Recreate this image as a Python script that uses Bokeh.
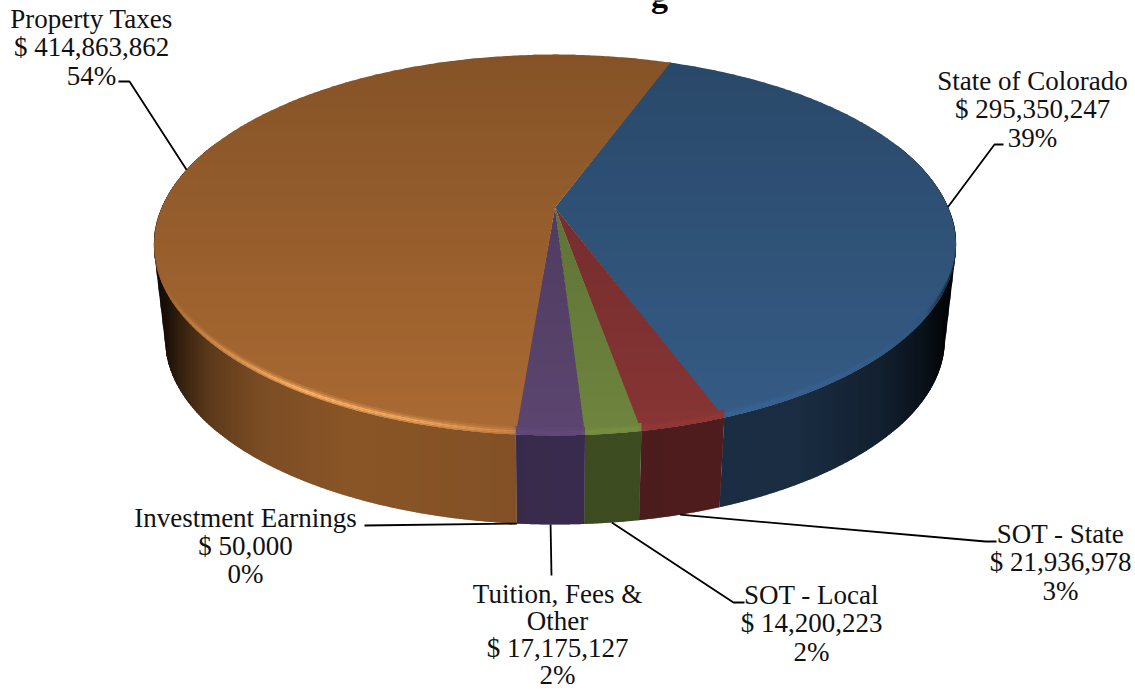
import math
import numpy as np
from bokeh.plotting import figure
from bokeh.embed import file_html
from bokeh.resources import INLINE
from bokeh.core.properties import value

# ---- data ----
categories = ["State of Colorado", "SOT - State", "SOT - Local", "Tuition, Fees & Other",
              "Investment Earnings", "Property Taxes"]
amounts = [295350247, 21936978, 14200223, 17175127, 50000, 414863862]
label_lines = [["State of Colorado"], ["SOT - State"], ["SOT - Local"], ["Tuition, Fees &", "Other"],
               ["Investment Earnings"], ["Property Taxes"]]

# ---- styles ----
top_colors = ["#365D87", "#883535", "#6F853F", "#5C4670", "#31859C", "#AB6B33"]
wall_colors = ["#1A2D42", "#4F1D1D", "#3F4F22", "#3B2D4F", "#1F5666", "#8A5628"]
glow_colors = ["#3F70A8", "#A53C3C", "#84A048", "#70508A", "#40A0B8", "#FFB468"]
wedge_order = [4, 0, 1, 2, 3, 5]

# ---- layout ----
W, H = 1135, 690
START_DEG = 20.2
CX, CY, A, B, K = 554.5, 207.0, 393.2, 183.0, 0.197
LOW_CY, LOW_S = 302.5, 0.972
label_center = [1032, 1060, 811, 557, 245, 91]
label_top = [80, 533, 594, 593, 517, 18]
label_step = [28.6, 28.6, 28.6, 27.0, 28.0, 28.6]
elbows = [[(994, 144), (1003, 144)], [(985, 541), (996, 541)], [(733, 602), (744, 602)],
          [(551, 575)], [(364, 525)], [(129, 81), (118, 81)]]
anchor_lower = [False, True, True, True, True, False]
bevel_up = [8.0, 6.0, 4.2, 2.5, 1.0, 0.0]
bevel_w = [.18, .5, 1.0, .95, .55]
HULL_LEFT_END, HULL_RIGHT_START = 215, 895


def proj(r, deg, lower=False):
    t = np.radians(deg)
    u, v = r * np.sin(t), r * np.cos(t)
    d = 1 + K * v
    if lower:
        return CX + LOW_S * A * u / d, LOW_CY - LOW_S * B * v / d
    return CX + A * u / d, CY - B * v / d


def rgb(h):
    return np.array([int(h[i:i + 2], 16) for i in (1, 3, 5)], float)


def hx(c):
    c = np.clip(c, 0, 255).astype(int)
    return "#%02x%02x%02x" % tuple(c)


total = sum(amounts)
edges = [START_DEG]
for a in amounts:
    edges.append(edges[-1] + 360.0 * a / total)
mids = [(edges[i] + edges[i + 1]) / 2 for i in range(len(amounts))]


def wall_factor(x):
    return np.interp(x, [150, 165, 180, 210, 260, 350, 500, 720, 800, 880, 920, 945, 960],
                     [.08, .18, .38, .68, .90, 1, .95, 1, 1, .72, .42, .12, .06])


def glow(x):
    return np.interp(x, [150, 158, 200, 300, 430, 520, 720, 860, 925, 945, 960],
                     [-.8, 0, .4, 1.0, .75, .35, .45, .25, 0, -.6, -.9])


def lift(deg):
    return min(1.0, max(0.0, -math.cos(math.radians(deg)) / 0.55))


def clip_half(poly, val, keep_above, axis=1):
    out = []
    n = len(poly)
    for i in range(n):
        p, q = poly[i], poly[(i + 1) % n]
        ip = (p[axis] >= val) if keep_above else (p[axis] <= val)
        iq = (q[axis] >= val) if keep_above else (q[axis] <= val)
        if ip:
            out.append(p)
        if ip != iq:
            s = (val - p[axis]) / (q[axis] - p[axis])
            c = (p[0] + s * (q[0] - p[0]), p[1] + s * (q[1] - p[1]))
            out.append(c)
    return out


def convex_hull(points):
    pts = sorted(set((float(a), float(b)) for a, b in points))

    def half(seq):
        out = []
        for q in seq:
            while len(out) >= 2 and ((out[-1][0] - out[-2][0]) * (q[1] - out[-2][1])
                                     - (out[-1][1] - out[-2][1]) * (q[0] - out[-2][0])) <= 0:
                out.pop()
            out.append(q)
        return out[:-1]

    return half(pts) + half(pts[::-1])


xs, ys, cols = [], [], []


def add(poly, col):
    xs.append([float(p[0]) for p in poly])
    ys.append([float(p[1]) for p in poly])
    cols.append(col)


STRIP = 2


def add_strips(shape, lo, hi, color):
    for x in range(int(lo), int(hi), STRIP):
        part = clip_half(clip_half(shape, x, True, 0), x + STRIP + 1, False, 0)
        if len(part) >= 3:
            add(part, hx(rgb(color) * wall_factor(x + STRIP / 2)))


# silhouette of the drum at both sides, where the wall's outline leaves the two rims
round_degs = np.arange(0, 360, 1.0)
hull = convex_hull([proj(1, d) for d in round_degs] + [proj(1, d, True) for d in round_degs])
add_strips(hull, 150, HULL_LEFT_END, wall_colors[5])
add_strips(hull, HULL_RIGHT_START, 960, wall_colors[0])

# side wall: each slice's wall cut in vertical strips for the horizontal shading
WALL_FROM, WALL_TO = 69.5, 290.5
for i in wedge_order:
    a0, a1 = max(edges[i], WALL_FROM), min(edges[i + 1], WALL_TO)
    if a1 <= a0:
        continue
    n = max(2, int(math.ceil((a1 - a0) / 0.5)))
    degs = [a0 + (a1 - a0) * j / n for j in range(n + 1)]
    shape = [proj(1, d) for d in degs] + [proj(1, d, True) for d in reversed(degs)]
    lo, hi = int(min(q[0] for q in shape)) - 1, int(max(q[0] for q in shape)) + 2
    add_strips(shape, lo, hi, wall_colors[i])

# top face: wedges cut in horizontal bands for the vertical gradient
BAND = 4
for i in wedge_order:
    a0, a1 = edges[i], edges[i + 1] + 0.15
    n = max(2, int(math.ceil((a1 - a0) / 0.5)))
    outline = [(CX, CY)] + [proj(1, a0 + (a1 - a0) * j / n) for j in range(n + 1)]
    for y in range(50, 440, BAND):
        part = clip_half(clip_half(outline, y, True), y + BAND + 1, False)
        if len(part) < 3:
            continue
        f = np.interp(y + BAND / 2, [54, 435], [.78, 1.0])
        add(part, hx(rgb(top_colors[i]) * f))

# rounded edge of the top face: bands lifted from the front rim, fading at the sides
for i in wedge_order:
    a0, a1 = edges[i], edges[i + 1]
    n = max(1, int(math.ceil((a1 - a0) / 1.0)))
    for j in range(n):
        d0 = a0 + (a1 - a0) * j / n
        d1 = a0 + (a1 - a0) * (j + 1) / n
        e1 = d1 + 0.4
        dm = (d0 + d1) / 2
        if math.cos(math.radians(dm)) > -0.02:
            continue
        x0, y0 = proj(1, dm)
        g = float(glow(x0))
        base = rgb(top_colors[i]) * float(np.interp(y0, [54, 435], [.78, 1.0]))
        a_pt, b_pt = proj(1, d0), proj(1, e1)
        la, lb = lift(d0), lift(e1)
        for k, w in enumerate(bevel_w):
            s = g * w
            c = base + (rgb(glow_colors[i]) - base) * s if s >= 0 else base * (1 + s)
            add([(a_pt[0], a_pt[1] - la * bevel_up[k]), (b_pt[0], b_pt[1] - lb * bevel_up[k]),
                 (b_pt[0], b_pt[1] - lb * bevel_up[k + 1]), (a_pt[0], a_pt[1] - la * bevel_up[k + 1])], hx(c))

p = figure(width=W, height=H, x_range=(0, W), y_range=(H, 0), toolbar_location=None,
           output_backend="svg", min_border=0, x_axis_type=None, y_axis_type=None,
           outline_line_color=None, background_fill_color="white", border_fill_color="white")
p.grid.visible = False
p.styles = {"position": "absolute", "left": "0px", "top": "0px"}

p.patches(xs, ys, fill_color=cols, line_color=None)

# leader lines
for i in range(len(amounts)):
    ax, ay = proj(1, mids[i], anchor_lower[i])
    path = [(float(ax), float(ay))] + elbows[i]
    p.line([q[0] for q in path], [q[1] for q in path], line_color="black", line_width=1.8)

# labels
FONT = value("Liberation Serif")
tx, ty, tt = [], [], []
for i, a in enumerate(amounts):
    lines = label_lines[i] + [f"$ {a:,}", f"{round(100 * a / total)}%"]
    for k, s in enumerate(lines):
        tx.append(label_center[i])
        ty.append(label_top[i] + k * label_step[i])
        tt.append(s)
p.text(tx, ty, text=tt, text_font=FONT, text_font_size="27px", text_color="#111111",
       text_align="center", text_baseline="middle")

# the title is cut off by the top of the picture: only a descender shows
p.text([659], [-5], text=["g"], text_font=FONT, text_font_style="bold", text_font_size="34px",
       text_color="black", text_align="center", text_baseline="alphabetic")

open("out.html", "w").write(file_html(p, INLINE))
